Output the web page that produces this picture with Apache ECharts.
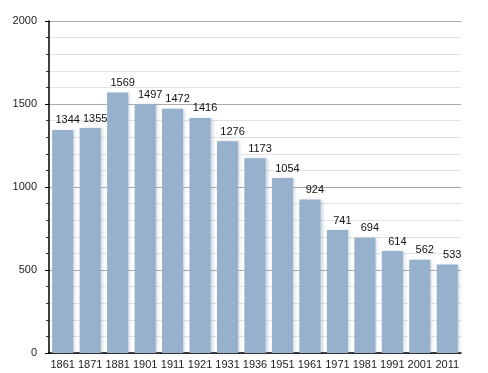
<!DOCTYPE html>
<html><head><meta charset="utf-8">
<script src="https://cdn.jsdelivr.net/npm/echarts@6/dist/echarts.min.js"></script>
<style>html,body{margin:0;padding:0;background:#fff}#c{width:488px;height:373px}</style>
</head><body><div id="c"></div>
<script>
const categories = ['1861','1871','1881','1901','1911','1921','1931','1936','1951','1961','1971','1981','1991','2001','2011'];
const population = [1344,1355,1569,1497,1472,1416,1276,1173,1054,924,741,694,614,562,533];
const yTicks = [0,500,1000,1500,2000];

const chart = echarts.init(document.getElementById('c'), null, {renderer:'canvas'});
chart.setOption({
  animation:false,
  grid:{left:49,right:27,top:21,bottom:20},
  xAxis:{type:'category',data:categories,
    axisLine:{lineStyle:{color:'#000',width:1.5}},
    axisTick:{show:false},
    axisLabel:{color:'#222',fontSize:11,fontFamily:'Liberation Sans, Arial',margin:6,interval:0}},
  yAxis:{type:'value',min:yTicks[0],max:yTicks[yTicks.length-1],interval:500,
    axisLine:{show:true,lineStyle:{color:'#000',width:1.5}},
    axisTick:{show:true,length:4,lineStyle:{color:'#000'}},
    minorTick:{show:true,splitNumber:5,length:3,lineStyle:{color:'#333'}},
    splitLine:{lineStyle:{color:'#aaaaaa',width:1}},
    minorSplitLine:{show:true,lineStyle:{color:'#e2e2e2',width:1}},
    axisLabel:{color:'#222',fontSize:11,fontFamily:'Liberation Sans, Arial',margin:12,
      formatter:v=>String(v)}},
  series:[{type:'bar',data:population,barCategoryGap:'23%',
    itemStyle:{color:'#97b0cc',shadowColor:'rgba(120,140,170,0.35)',shadowBlur:3,shadowOffsetX:2},
    label:{show:true,position:'top',offset:[5,0],distance:4,color:'#111',fontSize:11,fontFamily:'Liberation Sans, Arial'}}]
});
</script></body></html>
